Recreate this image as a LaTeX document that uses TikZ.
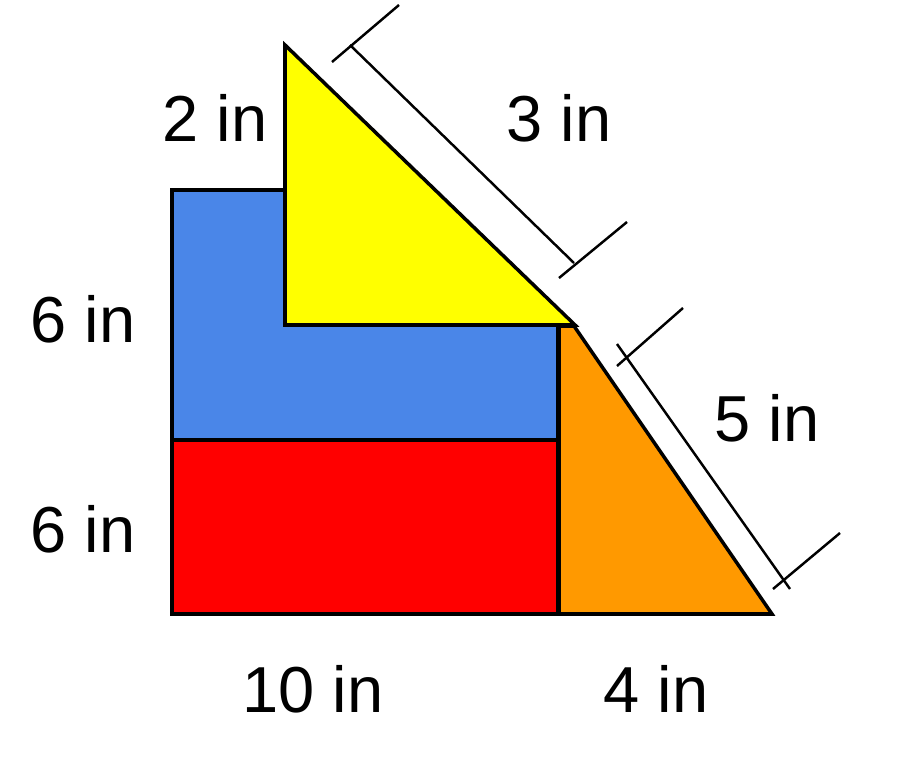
\documentclass[tikz,border=0pt]{standalone}
\usepackage{fontspec}
\setmainfont{Liberation Sans}
\definecolor{boxblue}{RGB}{74,134,232}
\definecolor{boxred}{RGB}{255,0,0}
\definecolor{triyellow}{RGB}{255,255,0}
\definecolor{triorange}{RGB}{255,153,0}
\begin{document}
\begin{tikzpicture}[x=0.02cm,y=-0.02cm,line join=miter]
  \tikzstyle{piece}=[draw=black,line width=2pt]
  \tikzstyle{dimline}=[draw=black,line width=1.4pt]
  \tikzstyle{lbl}=[anchor=base,inner sep=0pt,font=\fontsize{37}{45}\selectfont]

  \useasboundingbox (0,0) rectangle (902,760);

  % corners of the pieces
  \coordinate (bl) at (172,614);
  \coordinate (mid) at (558,440);
  \coordinate (top) at (285,45);
  \coordinate (corner) at (285,325);
  \coordinate (tip) at (575,325);
  \coordinate (foot) at (772,614);

  \path[piece,fill=boxblue] (172,190) -- (285,190) -- (corner) -- (558,325) -- (mid) -- (172,440) -- cycle;
  \path[piece,fill=boxred] (172,440) rectangle (558,614);
  \path[piece,fill=triorange] (559,326) -- (574,326) -- (foot) -- (559,614) -- cycle;
  \path[piece,fill=triyellow] (top) -- (tip) -- (corner) -- cycle;

  % dimension lines
  \coordinate (a1) at (350,45);
  \coordinate (a2) at (574,263);
  \coordinate (b1) at (617,344);
  \coordinate (b2) at (790,589);
  \path[dimline] (a1) -- (a2);
  \path[dimline] (332,62) -- (399,5);
  \path[dimline] (559,278) -- (627,222);
  \path[dimline] (b1) -- (b2);
  \path[dimline] (617,366) -- (683,308);
  \path[dimline] (773,589) -- (840,533);

  \node[lbl] (l2)  at (215,142) {2 in};
  \node[lbl] (l3)  at (559,142) {3 in};
  \node[lbl] (l6a) at (83,342)  {6 in};
  \node[lbl] (l6b) at (83,552)  {6 in};
  \node[lbl] (l5)  at (767,441) {5 in};
  \node[lbl] (l10) at (313,712) {10 in};
  \node[lbl] (l4)  at (656,712) {4 in};
\end{tikzpicture}
\end{document}
